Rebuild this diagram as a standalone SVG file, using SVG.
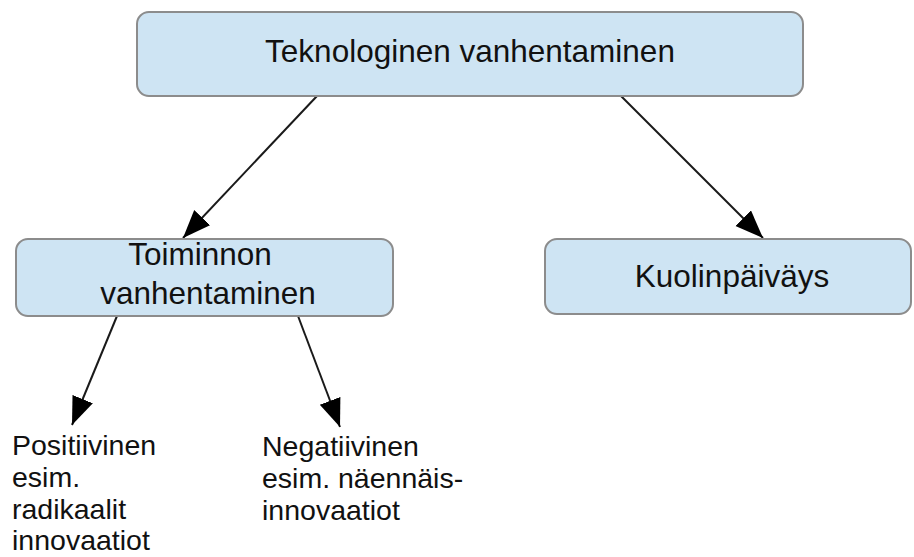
<svg xmlns="http://www.w3.org/2000/svg" width="914" height="557" viewBox="0 0 914 557">
<style>
.box{fill:#cee4f3;stroke:#8c8c8c;stroke-width:2}
.t{font-family:"Liberation Sans",Arial,sans-serif;font-size:31.5px;fill:#111}
.s{font-family:"Liberation Sans",Arial,sans-serif;font-size:28.5px;fill:#111}
.c{fill:none;stroke:#1a1a1a;stroke-width:2}
</style>
<defs>
<marker id="ah" markerUnits="userSpaceOnUse" markerWidth="30" markerHeight="24" refX="28" refY="11" orient="auto">
<path d="M0,0 L28,11 L0,22 z" fill="#000"/>
</marker>
</defs>
<rect width="914" height="557" fill="#fff"/>
<g id="connectors">
<line class="c" x1="317" y1="96" x2="183" y2="238" marker-end="url(#ah)"/>
<line class="c" x1="621" y1="96" x2="763" y2="238" marker-end="url(#ah)"/>
<line class="c" x1="117" y1="316" x2="72" y2="425" marker-end="url(#ah)"/>
<line class="c" x1="298" y1="316" x2="340" y2="427" marker-end="url(#ah)"/>
</g>
<g id="n_tekno">
<rect class="box" x="137" y="12" width="666" height="84" rx="12"/>
<text class="t" x="470" y="62" text-anchor="middle">Teknologinen vanhentaminen</text>
</g>
<g id="n_toiminnon">
<rect class="box" x="16" y="239" width="377" height="77" rx="12"/>
<text class="t" x="200" y="265" text-anchor="middle">Toiminnon</text>
<text class="t" x="208" y="304" text-anchor="middle">vanhentaminen</text>
</g>
<g id="n_kuolin">
<rect class="box" x="545" y="239" width="366" height="75" rx="12"/>
<text class="t" x="732" y="287" text-anchor="middle">Kuolinpäiväys</text>
</g>
<g id="n_positiivinen">
<text class="s" x="12" y="455">Positiivinen</text>
<text class="s" x="12" y="487">esim.</text>
<text class="s" x="12" y="519">radikaalit</text>
<text class="s" x="12" y="550">innovaatiot</text>
</g>
<g id="n_negatiivinen">
<text class="s" x="262" y="456">Negatiivinen</text>
<text class="s" x="262" y="488">esim. näennäis-</text>
<text class="s" x="262" y="520">innovaatiot</text>
</g>
</svg>
